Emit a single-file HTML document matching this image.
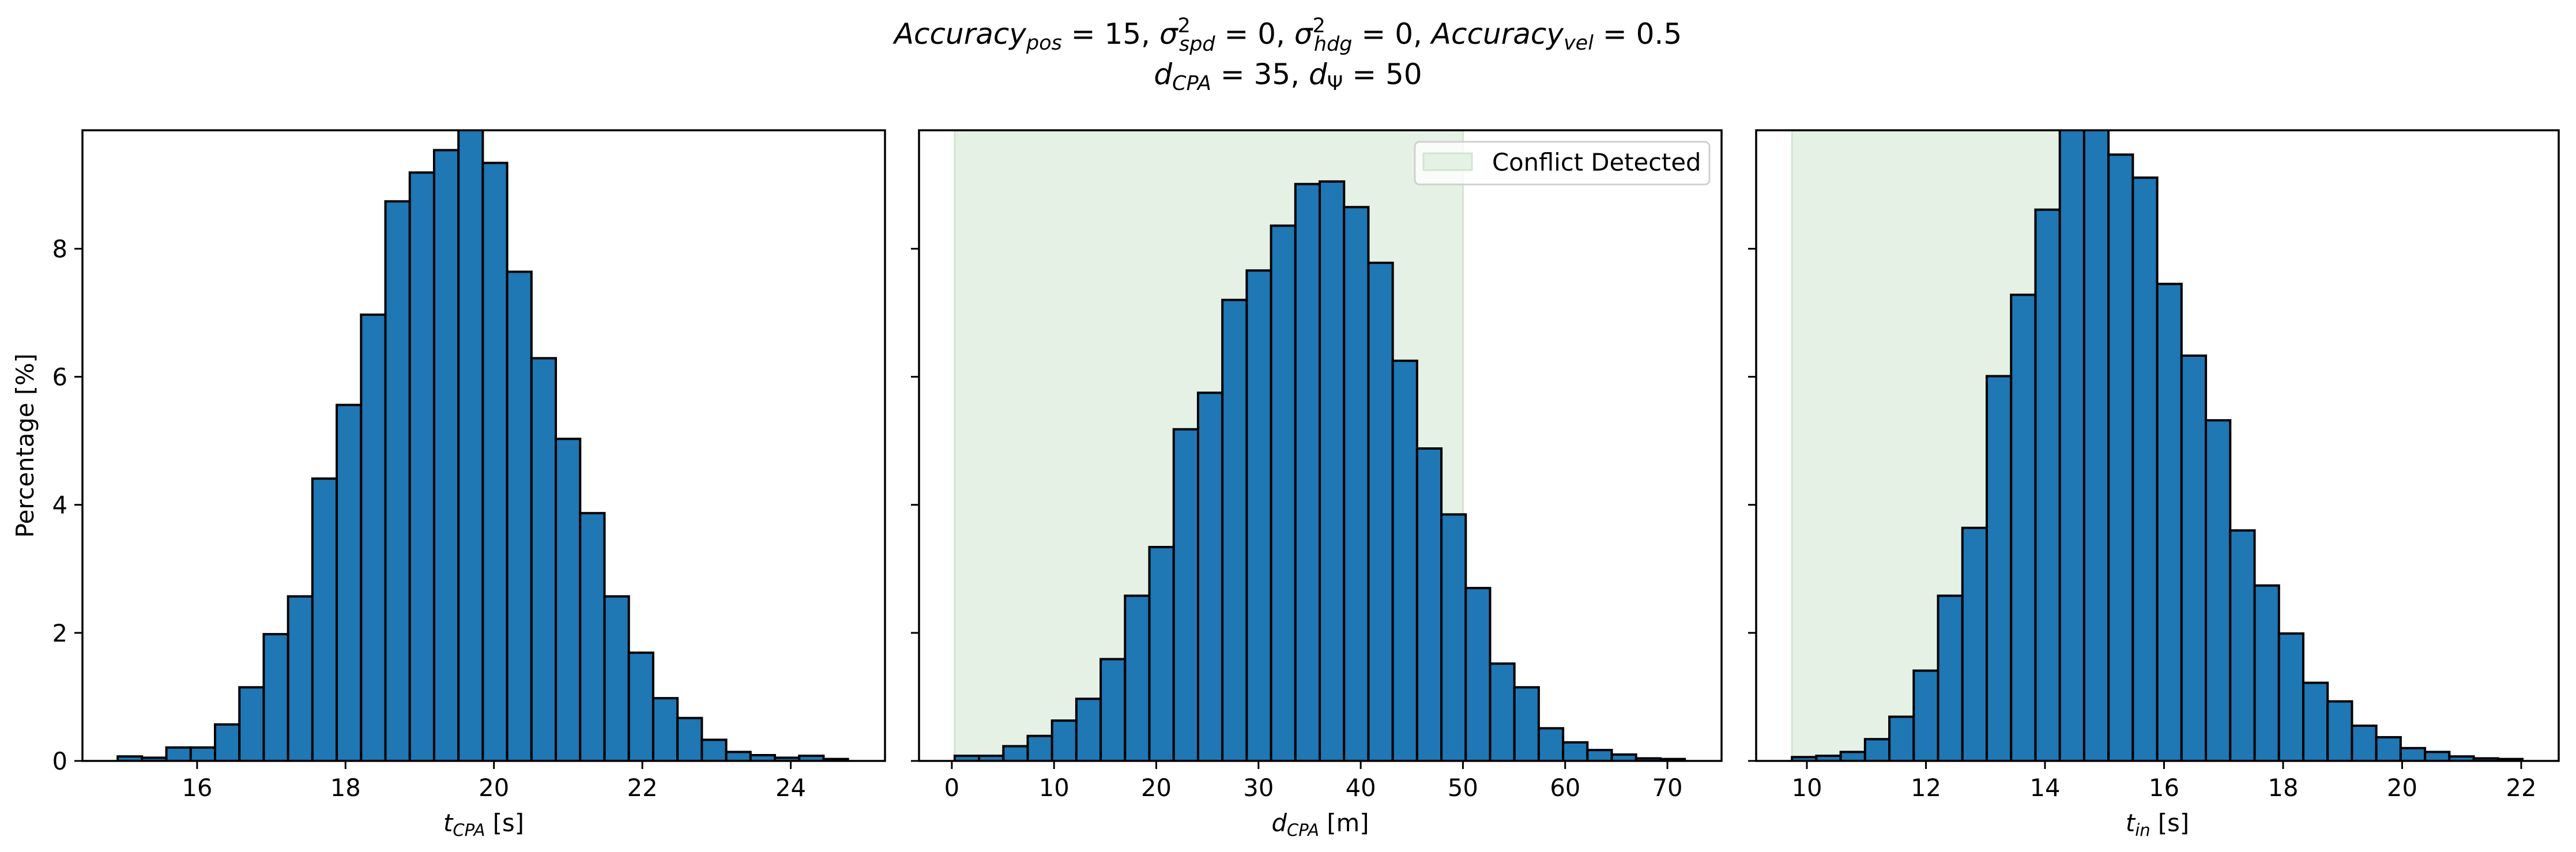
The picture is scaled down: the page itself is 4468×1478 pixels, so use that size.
<!DOCTYPE html>
<html><head><meta charset="utf-8"><style>
body{margin:0;background:#fff}
svg{display:block;font-family:"DejaVu Sans","Liberation Sans",sans-serif}
</style></head><body>
<svg id="chart" width="4468" height="1478" viewBox="0 0 4468 1478" xmlns="http://www.w3.org/2000/svg">
<text x="2234" y="76" font-size="50" text-anchor="middle"><tspan font-style="italic">Accuracy</tspan><tspan font-style="italic" font-size="35" dy="10">pos</tspan><tspan dy="-10"> = 15, </tspan><tspan font-style="italic">σ</tspan><tspan font-size="35" dy="-20">2</tspan><tspan font-style="italic" font-size="35" dx="-20" dy="32">spd</tspan><tspan dy="-12"> = 0, </tspan><tspan font-style="italic">σ</tspan><tspan font-size="35" dy="-20">2</tspan><tspan font-style="italic" font-size="35" dx="-20" dy="32">hdg</tspan><tspan dy="-12"> = 0, </tspan><tspan font-style="italic">Accuracy</tspan><tspan font-style="italic" font-size="35" dy="10">vel</tspan><tspan dy="-10"> = 0.5</tspan></text>
<text x="2234" y="146" font-size="50" text-anchor="middle"><tspan font-style="italic">d</tspan><tspan font-style="italic" font-size="35" dy="10">CPA</tspan><tspan dy="-10"> = 35, </tspan><tspan font-style="italic">d</tspan><tspan font-size="35" dy="10">Ψ</tspan><tspan dy="-10"> = 50</tspan></text>
<g id="plots"></g>
</svg>
<script>
const yTicks = [0, 2, 4, 6, 8];
const tcpaEdges = [14.93, 24.77];
const tcpaValues = [0.07,0.05,0.21,0.21,0.57,1.15,1.98,2.57,4.41,5.56,6.97,8.74,9.19,9.54,10.0,9.34,7.64,6.29,5.03,3.87,2.57,1.69,0.98,0.67,0.33,0.14,0.09,0.05,0.08,0.03];
const tcpaTicks = [16, 18, 20, 22, 24];
const dcpaEdges = [0.28, 71.7];
const dcpaValues = [0.08,0.08,0.23,0.39,0.63,0.97,1.59,2.58,3.34,5.18,5.75,7.2,7.66,8.36,9.01,9.05,8.65,7.78,6.25,4.88,3.85,2.7,1.52,1.15,0.51,0.29,0.17,0.1,0.04,0.03];
const dcpaTicks = [0, 10, 20, 30, 40, 50, 60, 70];
const dcpaConflict = [0.28, 50];
const tinEdges = [9.75, 22.02];
const tinValues = [0.06,0.08,0.14,0.34,0.69,1.41,2.58,3.64,6.01,7.28,8.61,10.1,10.1,9.47,9.11,7.45,6.33,5.32,3.6,2.74,1.99,1.22,0.93,0.55,0.37,0.2,0.14,0.07,0.04,0.03];
const tinTicks = [10, 12, 14, 16, 18, 20, 22];
const tinConflict = [9.75, 14.5];

const NS = "http://www.w3.org/2000/svg";
const root = document.getElementById('plots');
const TOP = 226, BOT = 1320, YMAX = 9.85;
function mk(tag, attrs, parent) { const e = document.createElementNS(NS, tag); for (const k in attrs) e.setAttribute(k, attrs[k]); (parent || root).appendChild(e); return e; }

function panel(id, left, right, xmin, xmax, edges, values, ticks, conflict, labelMain, labelSub, unit, showY, legend) {
  const g = mk('g', {});
  
  
  const sx = v => left + (v - xmin) / (xmax - xmin) * (right - left);
  const sy = v => BOT - v / YMAX * (BOT - TOP);
  const clipId = id + '-clip';
  const cp = mk('clipPath', { id: clipId }, g);
  mk('rect', { x: left, y: TOP, width: right - left, height: BOT - TOP }, cp);
  const inner = mk('g', { 'clip-path': 'url(#' + clipId + ')' }, g);
  if (conflict) {
    const r = mk('rect', { x: sx(conflict[0]), y: TOP, width: sx(conflict[1]) - sx(conflict[0]), height: BOT - TOP, fill: '#e5f1e4', stroke: '#cfe6cf', 'stroke-width': 3 }, inner);
    
    
  }
  const w = (edges[1] - edges[0]) / values.length;
  values.forEach((v, i) => {
    const x0 = sx(edges[0] + i * w), x1 = sx(edges[0] + (i + 1) * w);
    const b = mk('rect', { x: x0, y: sy(v), width: x1 - x0, height: BOT - sy(v), fill: '#1f77b4', stroke: '#000', 'stroke-width': 4 }, inner);
    
    
  });
  const f = mk('rect', { x: left, y: TOP, width: right - left, height: BOT - TOP, fill: 'none', stroke: '#000', 'stroke-width': 3.5 }, g);
  
  
  ticks.forEach(t => {
    mk('line', { x1: sx(t), x2: sx(t), y1: BOT, y2: BOT + 14, stroke: '#000', 'stroke-width': 3 }, g);
    const tx = mk('text', { x: sx(t), y: 1381, 'font-size': 41.7, 'text-anchor': 'middle' }, g);
    tx.textContent = t;
    
    
  });
  yTicks.forEach(t => {
    mk('line', { x1: left, x2: left - 14, y1: sy(t), y2: sy(t), stroke: '#000', 'stroke-width': 3 }, g);
    if (showY) {
      const tx = mk('text', { x: left - 26, y: sy(t) + 15, 'font-size': 41.7, 'text-anchor': 'end' }, g);
      tx.textContent = t;
      
      
    }
  });
  const xl = mk('text', { x: (left + right) / 2, y: 1442, 'font-size': 41.7, 'text-anchor': 'middle' }, g);
  
  
  xl.innerHTML = '<tspan font-style="italic">' + labelMain + '</tspan><tspan font-style="italic" font-size="29" dy="8">' + labelSub + '</tspan><tspan dy="-8"> ' + unit + '</tspan>';
  if (showY) {
    const yl = mk('text', { x: 0, y: 0, 'font-size': 41.7, 'text-anchor': 'middle', transform: 'translate(58,773) rotate(-90)' }, g);
    yl.textContent = 'Percentage [%]';
    
    
  }
  if (legend) {
    const lg = mk('g', {}, g);
    
    
    mk('rect', { x: 2454, y: 246, width: 511, height: 74, rx: 8, fill: 'rgba(255,255,255,0.8)', stroke: '#d0d0d0', 'stroke-width': 3 }, lg);
    const p = mk('rect', { x: 2469, y: 266, width: 84, height: 29, fill: '#e5f1e4', stroke: '#cfe6cf', 'stroke-width': 3 }, lg);
    
    
    const lt = mk('text', { x: 2588, y: 296, 'font-size': 41.7 }, lg);
    lt.textContent = 'Conflict Detected';
    
    
  }
}
panel('tcpa', 143, 1535, 14.455, 25.27, tcpaEdges, tcpaValues, tcpaTicks, null, 't', 'CPA', '[s]', true, false);
panel('dcpa', 1594, 2986, -3.21, 75.3, dcpaEdges, dcpaValues, dcpaTicks, dcpaConflict, 'd', 'CPA', '[m]', false, true);
panel('tin', 3046, 4438, 9.148, 22.63, tinEdges, tinValues, tinTicks, tinConflict, 't', 'in', '[s]', false, false);
</script>
</body></html>
